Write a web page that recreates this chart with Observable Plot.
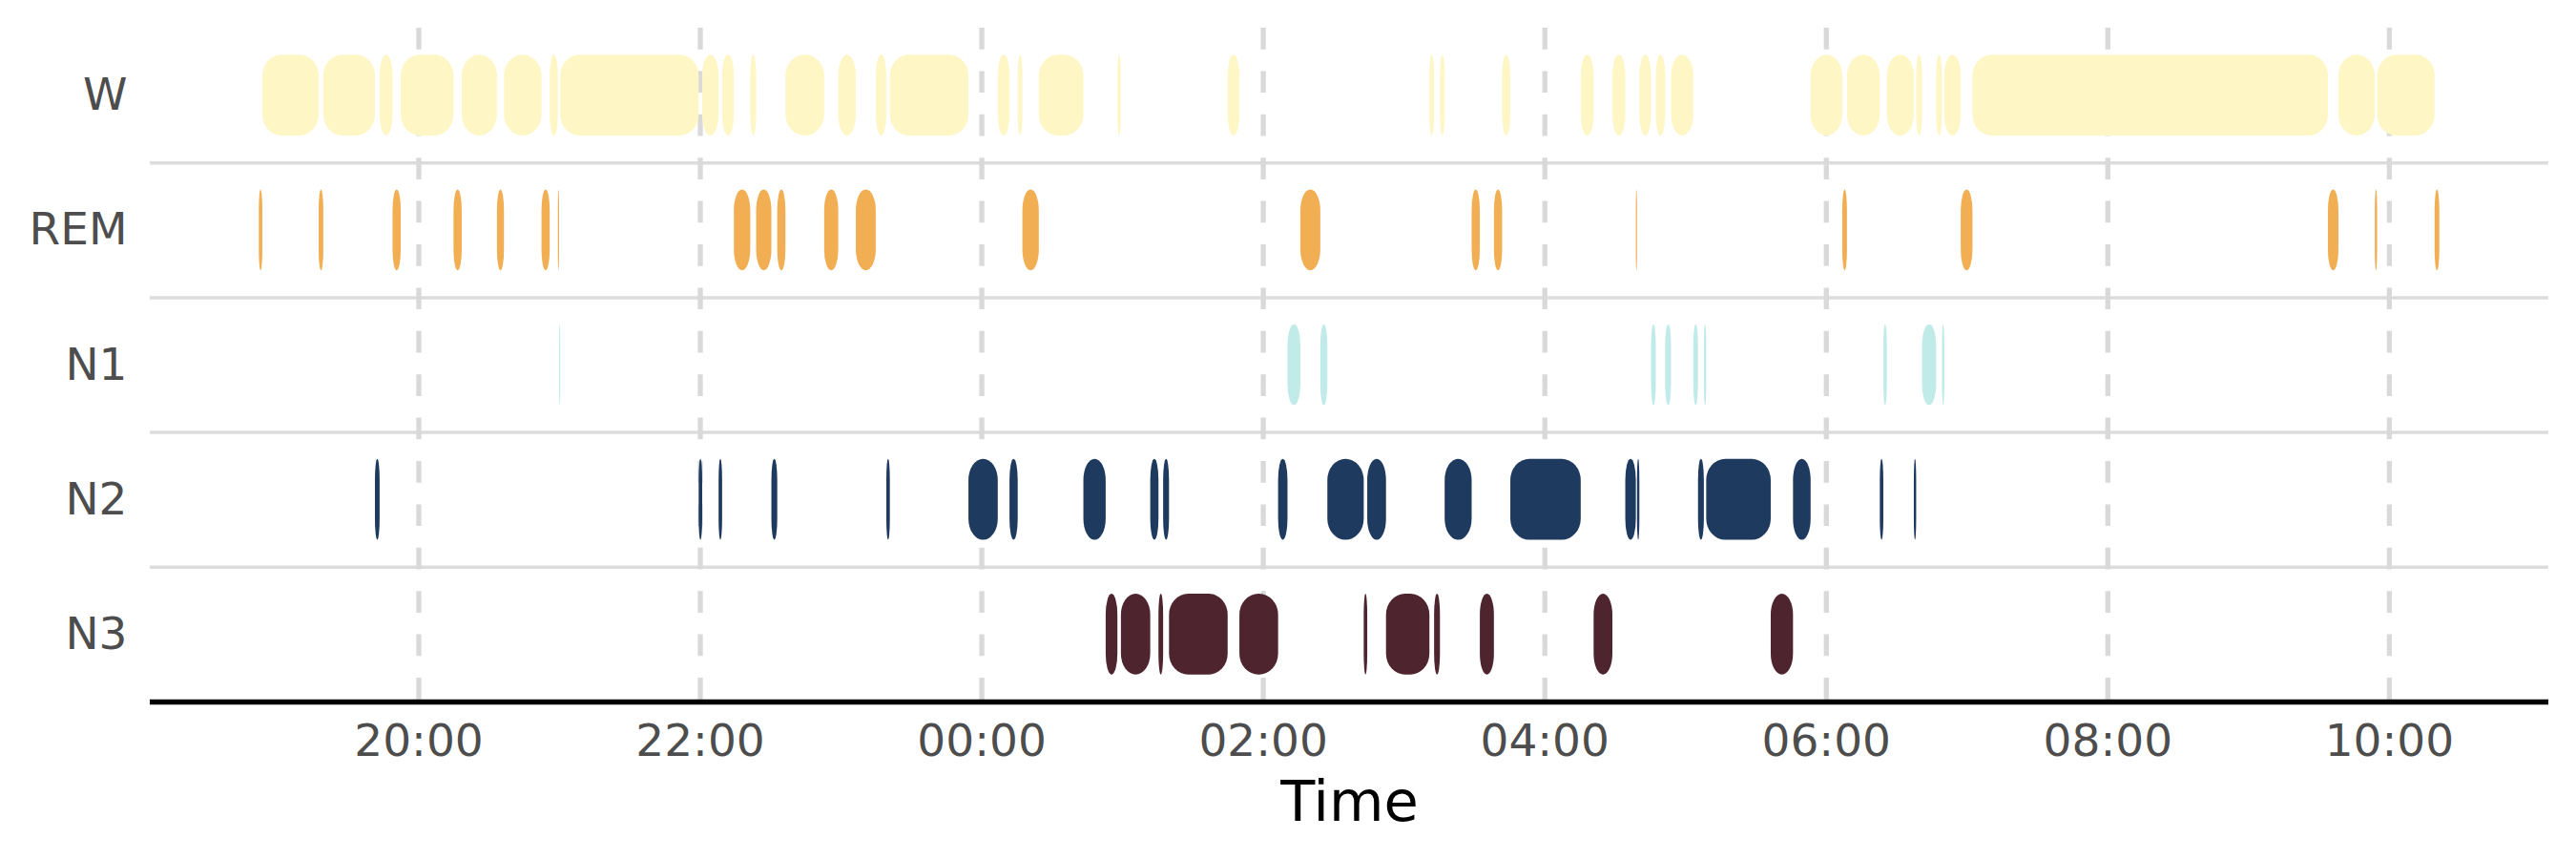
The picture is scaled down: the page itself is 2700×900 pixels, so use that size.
<!DOCTYPE html>
<html>
<head>
<meta charset="utf-8">
<script src="https://cdn.jsdelivr.net/npm/d3@7"></script>
<script src="https://cdn.jsdelivr.net/npm/@observablehq/plot@0.6"></script>
<style>
  html, body { margin: 0; padding: 0; background: #ffffff; }
  #chart { width: 2700px; height: 900px; }
</style>
</head>
<body>
<div id="chart"></div>
<script>
// Sleep stages (top to bottom) and their colours
const stageNames  = ["W", "REM", "N1", "N2", "N3"];
const stageColors = ["#fff6c6", "#f2ae52", "#c1ebe8", "#1e3a5e", "#4e252e"];

// Hypnogram: consecutive segments, each lasting until the next start
const segStages = [
  "REM","W","REM","W","N2","W","REM","W","REM","W",
  "REM","W","REM","W","REM","N1","W","N2","W","N2",
  "W","REM","W","REM","N2","REM","W","REM","W","REM",
  "W","N2","W","N2","W","N2","W","REM","W","N2",
  "N3","W","N3","N2","N3","N2","N3","W","N3","N2",
  "N1","REM","N1","N2","N3","N2","N3","W","N3","W",
  "N2","REM","N3","REM","W","N2","W","N3","W","N2",
  "REM","N2","W","N1","W","N1","W","N1","N2","N1",
  "N2","N3","N2","W","REM","W","N2","N1","W","N2",
  "W","N1","W","N1","W","REM","W","REM","W","REM",
  "W","REM"
];
const segStarts = [
  "18:52:00","18:53:30","19:17:30","19:19:30","19:41:30","19:43:30","19:49:00","19:52:30","20:15:00","20:18:30",
  "20:33:30","20:36:30","20:52:30","20:56:00","20:59:30","21:00:00","21:00:30","21:59:30","22:01:00","22:08:00",
  "22:09:30","22:14:30","22:21:30","22:24:00","22:30:30","22:33:00","22:36:30","22:53:00","22:59:00","23:06:30",
  "23:15:00","23:19:30","23:21:00","23:54:30","00:07:00","00:12:00","00:15:30","00:17:30","00:24:30","00:43:30",
  "00:53:00","00:58:00","00:59:30","01:12:00","01:15:30","01:17:30","01:20:00","01:45:00","01:50:00","02:06:30",
  "02:10:30","02:16:00","02:24:30","02:27:30","02:43:00","02:44:30","02:52:30","03:11:00","03:13:00","03:15:30",
  "03:17:30","03:29:00","03:32:30","03:38:30","03:42:00","03:45:30","04:15:30","04:21:00","04:29:00","04:34:30",
  "04:39:00","04:39:30","04:40:30","04:45:30","04:47:30","04:51:30","04:54:00","05:03:30","05:05:30","05:08:00",
  "05:09:00","05:36:30","05:46:00","05:53:30","06:07:00","06:09:00","06:23:00","06:24:30","06:26:00","06:37:30",
  "06:38:30","06:41:00","06:47:00","06:49:30","06:50:30","06:57:30","07:02:30","09:34:00","09:38:30","09:54:00",
  "09:55:00","10:19:30"
];
const recordingEnd = "10:21:30";

// Axis ticks
const tickLabels = ["20:00","22:00","00:00","02:00","04:00","06:00","08:00","10:00"];
const xLabel = "Time";

// Evening times fall on day 1, morning times on day 2
function toDate(s) {
  const [h, m, sec = 0] = s.split(":").map(Number);
  const day = h < 12 ? 2 : 1;
  return new Date(Date.UTC(2024, 0, day, h, m, sec));
}

const segments = segStages.map((stage, i) => ({
  stage,
  idx: stageNames.indexOf(stage),
  start: toDate(segStarts[i]),
  end: toDate(i + 1 < segStarts.length ? segStarts[i + 1] : recordingEnd)
}));

const t0 = +segments[0].start;
const t1 = +segments[segments.length - 1].end;
const pad = 0.05 * (t1 - t0);
const xDomain = [new Date(t0 - pad), new Date(t1 + pad)];
const tickDates = tickLabels.map(toDate);
const stageIdx = stageNames.map((_, i) => i);
const separators = stageIdx.slice(0, -1).map(i => i + 0.5);
const baseline = stageNames.length - 0.5;

const chart = Plot.plot({
  width: 2700,
  height: 900,
  marginLeft: 157,
  marginRight: 29,
  marginTop: 29,
  marginBottom: 165,
  style: { fontFamily: "DejaVu Sans", background: "#ffffff", color: "#4d4d4d" },
  x: { type: "utc", domain: xDomain },
  y: { domain: [baseline, -0.5] },
  color: { domain: stageNames, range: stageColors },
  marks: [
    Plot.ruleY(separators, { stroke: "#dcdcdc", strokeWidth: 3.5 }),
    Plot.ruleX(tickDates, { stroke: "#d9d9d9", strokeWidth: 5.3, strokeDasharray: "22.7,22.7" }),
    Plot.rect(segments, {
      x1: "start",
      x2: "end",
      y1: d => d.idx - 0.3,
      y2: d => d.idx + 0.3,
      fill: "stage",
      rx: 20,
      ry: 22
    }),
    Plot.ruleY([baseline], { stroke: "#000000", strokeWidth: 5.5 }),
    Plot.axisX(tickDates, {
      tickFormat: d3.utcFormat("%H:%M"),
      tickSize: 0,
      tickPadding: 23,
      fontSize: 47,
      fill: "#4d4d4d",
      label: null
    }),
    Plot.axisY(stageIdx, {
      tickFormat: i => stageNames[i],
      tickSize: 0,
      tickPadding: 24,
      fontSize: 47,
      fill: "#4d4d4d",
      label: null
    }),
    Plot.text([xLabel], {
      frameAnchor: "bottom",
      dy: 124,
      fontSize: 59,
      fill: "#000000"
    })
  ]
});

document.getElementById("chart").appendChild(chart);
</script>
</body>
</html>
